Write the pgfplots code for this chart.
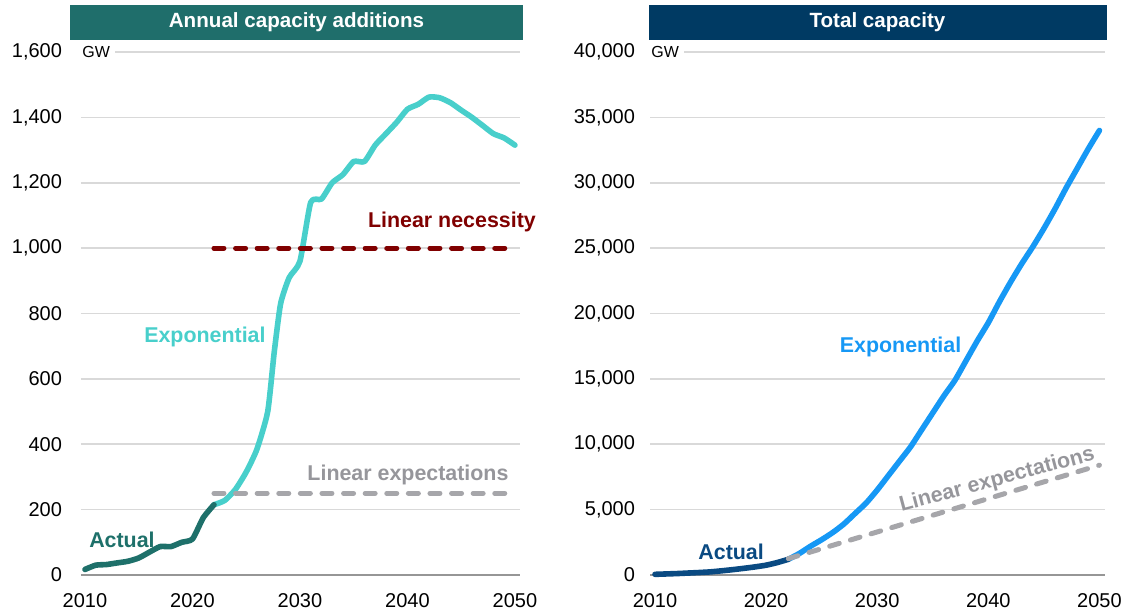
\documentclass[border=0pt]{standalone}
\usepackage{fontspec}
\setmainfont{Liberation Sans}
\usepackage{pgfplots}
\pgfplotsset{compat=1.18}
\definecolor{tealbar}{RGB}{31,110,107}
\definecolor{tealact}{RGB}{30,112,106}
\definecolor{turq}{RGB}{72,207,203}
\definecolor{darkred}{RGB}{128,0,0}
\definecolor{dgray}{RGB}{166,166,170}
\definecolor{tgray}{RGB}{150,150,155}
\definecolor{navybar}{RGB}{0,58,99}
\definecolor{navyact}{RGB}{10,74,130}
\definecolor{skyblue}{RGB}{22,152,245}
\definecolor{gridgray}{RGB}{217,217,217}
\definecolor{axgray}{RGB}{150,150,150}
\tikzset{
  thickline/.style={line width=2.8pt, line cap=round, line join=round},
  dashline/.style={line width=2.5pt, line cap=round, dash pattern=on 5pt off 5.8pt},
  lbl/.style={font=\fontsize{10.7}{12}\selectfont\bfseries},
}
\pgfplotsset{
  common/.style={
    scale only axis, anchor=south west,
    height=261.5pt, ymin=0,
    scaled ticks=false,
    xtick={2010,2020,2030,2040,2050},
    ymajorgrids,
    major grid style={color=gridgray, line width=0.8pt},
    axis x line*=bottom, axis y line*=left,
    y axis line style={draw=none},
    x axis line style={-, color=axgray, line width=0.8pt},
    major tick length=0pt, tick style={draw=none},
    /pgf/number format/assume math mode=true,
    xticklabel style={/pgf/number format/1000 sep={}, yshift=-5.5pt},
    yticklabel style={/pgf/number format/1000 sep={,}},
    clip=false,
    title style={at={(0.5,1)}, anchor=south, text=white,
      font=\fontsize{10.3}{12}\selectfont\bfseries, minimum height=17.5pt, inner sep=0pt},
  },
}
\begin{document}
\begin{tikzpicture}
\useasboundingbox (-40.5pt,-20pt) rectangle (525pt,287.5pt);
\begin{axis}[common, at={(0pt,0pt)}, width=219.5pt,
  xmin=2009.63, xmax=2050.47, ymax=1600,
  ytick={0,200,400,600,800,1000,1200,1400,1600},
  yticklabel style={xshift=-6pt},
  title={Annual capacity additions},
  title style={fill=tealbar, minimum width=226.5pt, xshift=-2pt}]
\addplot[turq, thickline, smooth, tension=0.35] coordinates {
(2022,215) (2023,228) (2024,262) (2025,315) (2026,385) (2027,500) (2027.6,680) (2028.2,830)
(2029,910) (2030,960) (2031,1140) (2032,1150) (2033,1200) (2034,1225) (2035,1265)
(2036,1265) (2037,1315) (2038,1350) (2039,1385) (2040,1425) (2041,1440) (2042,1462)
(2043,1460) (2044,1445) (2045,1422) (2046,1400) (2047,1375) (2048,1350) (2049,1337)
(2050,1315)};
\addplot[tealact, thickline, smooth, tension=0.35] coordinates {
(2010,17) (2011,30) (2012,32) (2013,37) (2014,42) (2015,52) (2016,70) (2017,87)
(2018,87) (2019,100) (2020,110) (2021,175) (2022,215)};
\addplot[darkred, dashline] coordinates {(2022,1000) (2050,1000)};
\addplot[dgray, dashline] coordinates {(2022,250) (2050,250)};
\node[lbl, color=darkred] at (axis cs:2044.14,1080) {Linear necessity};
\node[lbl, color=turq] at (axis cs:2021.16,728) {Exponential};
\node[lbl, color=tgray] at (axis cs:2040.05,306) {Linear expectations};
\node[lbl, color=tealact] at (axis cs:2013.44,107) {Actual};
\node[anchor=west, fill=white, inner xsep=2.5pt, font=\fontsize{8}{9}\selectfont]
  at ([xshift=-2pt]rel axis cs:0,1) {GW};
\end{axis}
\begin{axis}[common, at={(284.5pt,0pt)}, width=227.5pt,
  xmin=2009.55, xmax=2050.5, ymax=40000,
  ytick={0,5000,10000,15000,20000,25000,30000,35000,40000},
  yticklabel style={xshift=-4pt},
  title={Total capacity},
  title style={fill=navybar, minimum width=229pt}]
\addplot[skyblue, thickline, smooth, tension=0.35] coordinates {
(2022,1200) (2023,1650) (2024,2200) (2025,2700) (2026,3250) (2027,3900) (2028,4700)
(2029,5500) (2030,6500) (2031,7600) (2032,8700) (2033,9800) (2034,11100) (2035,12400)
(2036,13700) (2037,14900) (2038,16400) (2039,17900) (2040,19300) (2041,20900)
(2042,22400) (2043,23800) (2044,25100) (2045,26500) (2046,28000) (2047,29600)
(2048,31100) (2049,32600) (2050,34000)};
\addplot[navyact, thickline, smooth, tension=0.35] coordinates {
(2010,50) (2011,80) (2012,110) (2013,150) (2014,190) (2015,240) (2016,320) (2017,410)
(2018,510) (2019,620) (2020,750) (2021,950) (2022,1200)};
\addplot[dgray, dashline] coordinates {(2022,1250) (2050,8400)};
\node[lbl, color=skyblue] at (axis cs:2032.1,17440) {Exponential};
\node[lbl, color=navyact] at (axis cs:2016.85,1760) {Actual};
\node[lbl, color=tgray, rotate=15] at (axis cs:2040.8,7250) {Linear expectations};
\node[anchor=west, fill=white, inner xsep=2.5pt, font=\fontsize{8}{9}\selectfont]
  at ([xshift=-2pt]rel axis cs:0,1) {GW};
\end{axis}
\end{tikzpicture}
\end{document}
